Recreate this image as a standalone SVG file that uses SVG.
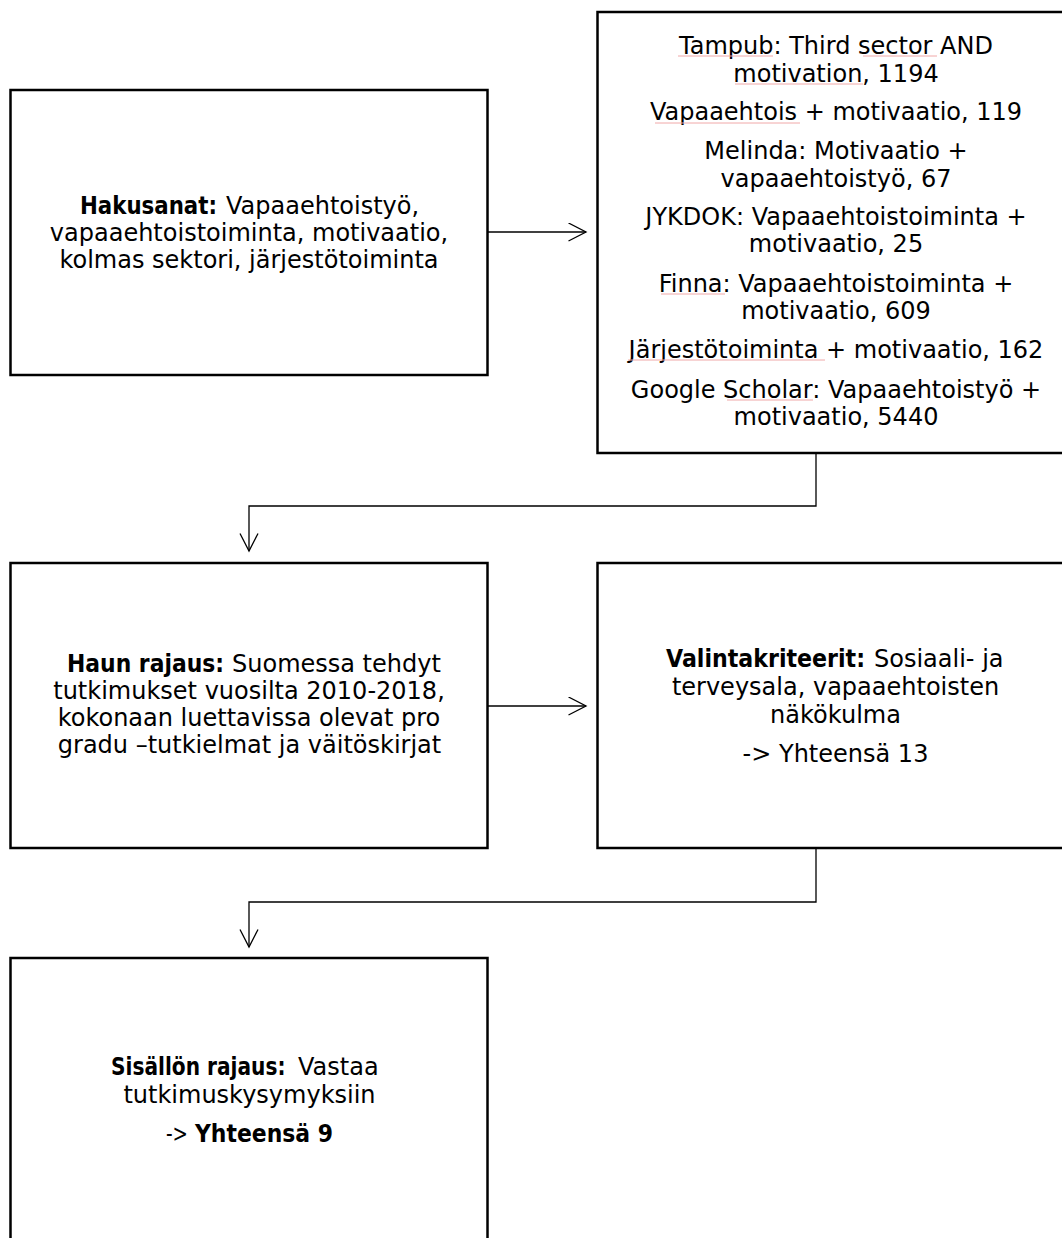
<svg xmlns="http://www.w3.org/2000/svg" width="1062" height="1238" viewBox="0 0 1062 1238">
  <style>
    .box { fill: #ffffff; stroke: #000000; stroke-width: 2.5; }
    .t { font-family: "DejaVu Sans", "Noto Sans", sans-serif; font-size: 24px; fill: #000000; text-anchor: middle; }
    .s { text-anchor: start; }
    .b { font-weight: bold; }
    .conn { fill: none; stroke: #000000; stroke-width: 1.3; }
    .spell { stroke: #f0a8a8; stroke-width: 1; fill: none; }
  </style>
  <defs>
    <marker id="arrow" markerUnits="userSpaceOnUse" markerWidth="22" markerHeight="22" refX="18" refY="9.5" orient="auto">
      <path d="M0.5,0.5 L18,9.5 L0.5,18.5" fill="none" stroke="#000000" stroke-width="1.3"/>
    </marker>
  </defs>
  <rect width="1062" height="1238" fill="#ffffff"/>

  <g id="connectors">
    <line class="conn" x1="488" y1="232" x2="586" y2="232" marker-end="url(#arrow)"/>
    <line class="conn" x1="488" y1="706" x2="586" y2="706" marker-end="url(#arrow)"/>
    <polyline class="conn" points="816,453 816,506 249,506 249,551" marker-end="url(#arrow)"/>
    <polyline class="conn" points="816,848 816,902 249,902 249,947" marker-end="url(#arrow)"/>
  </g>

  <g id="node-hakusanat">
    <rect class="box" x="10.5" y="90" width="477" height="285"/>
    <text class="t s b" x="80" y="213.5" textLength="137" lengthAdjust="spacingAndGlyphs">Hakusanat:</text>
    <text class="t s" x="226" y="213.5">Vapaaehtoistyö,</text>
    <text class="t" x="249" y="240.5">vapaaehtoistoiminta, motivaatio,</text>
    <text class="t" x="249" y="267.5">kolmas sektori, järjestötoiminta</text>
  </g>

  <g id="node-tulokset">
    <rect class="box" x="597.5" y="12" width="477" height="441"/>
    <text class="t" x="836" y="54">Tampub: Third sector AND</text>
    <text class="t" x="836" y="82">motivation, 1194</text>
    <text class="t" x="836" y="120">Vapaaehtois + motivaatio, 119</text>
    <text class="t" x="836" y="159">Melinda: Motivaatio +</text>
    <text class="t" x="836" y="187">vapaaehtoistyö, 67</text>
    <text class="t" x="836" y="225">JYKDOK: Vapaaehtoistoiminta +</text>
    <text class="t" x="836" y="252">motivaatio, 25</text>
    <text class="t" x="836" y="292">Finna: Vapaaehtoistoiminta +</text>
    <text class="t" x="836" y="319">motivaatio, 609</text>
    <text class="t" x="836" y="358">Järjestötoiminta + motivaatio, 162</text>
    <text class="t" x="836" y="398">Google Scholar: Vapaaehtoistyö +</text>
    <text class="t" x="836" y="425">motivaatio, 5440</text>
    <g id="spellcheck-marks">
      <line class="spell" x1="678" y1="56" x2="773" y2="56"/>
      <line class="spell" x1="863" y1="56" x2="937" y2="56"/>
      <line class="spell" x1="735" y1="84" x2="863" y2="84"/>
      <line class="spell" x1="655" y1="123" x2="800" y2="123"/>
      <line class="spell" x1="661" y1="294" x2="725" y2="294"/>
      <line class="spell" x1="628" y1="360" x2="825" y2="360"/>
      <line class="spell" x1="727" y1="400" x2="813" y2="400"/>
    </g>
  </g>

  <g id="node-haun-rajaus">
    <rect class="box" x="10.5" y="563" width="477" height="285"/>
    <text class="t s b" x="67" y="672" textLength="157" lengthAdjust="spacingAndGlyphs">Haun rajaus:</text>
    <text class="t s" x="232" y="672">Suomessa tehdyt</text>
    <text class="t" x="249" y="699">tutkimukset vuosilta 2010-2018,</text>
    <text class="t" x="249" y="726">kokonaan luettavissa olevat pro</text>
    <text class="t" x="249.5" y="753">gradu –tutkielmat ja väitöskirjat</text>
  </g>

  <g id="node-valintakriteerit">
    <rect class="box" x="597.5" y="563" width="477" height="285"/>
    <text class="t s b" x="666" y="667" textLength="199" lengthAdjust="spacingAndGlyphs">Valintakriteerit:</text>
    <text class="t s" x="874" y="667">Sosiaali- ja</text>
    <text class="t" x="835.5" y="695">terveysala, vapaaehtoisten</text>
    <text class="t" x="835.5" y="723">näkökulma</text>
    <text class="t" x="835.5" y="762">-&gt; Yhteensä 13</text>
  </g>

  <g id="node-sisallon-rajaus">
    <rect class="box" x="10.5" y="958" width="477" height="285"/>
    <text class="t s b" x="0" y="0" transform="translate(111 1075) scale(0.84 1)">Sisällön rajaus:</text>
    <text class="t s" x="298" y="1075">Vastaa</text>
    <text class="t" x="249.5" y="1103">tutkimuskysymyksiin</text>
    <text class="t s" x="166" y="1142" textLength="22" lengthAdjust="spacingAndGlyphs">-&gt;</text>
    <text class="t s b" x="195" y="1142" textLength="138" lengthAdjust="spacingAndGlyphs">Yhteensä 9</text>
  </g>
</svg>
